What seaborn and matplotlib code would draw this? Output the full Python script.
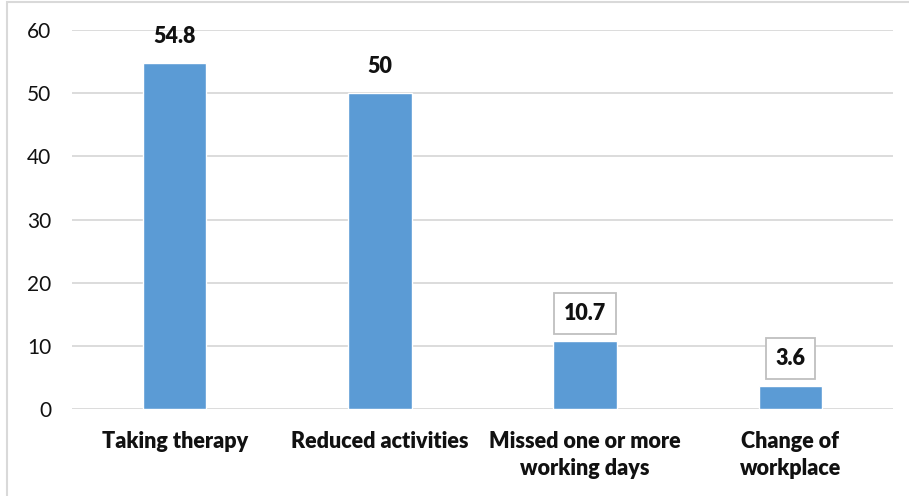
import matplotlib
matplotlib.use("Agg")
import matplotlib.pyplot as plt
import seaborn as sns
import pandas as pd
from matplotlib.patches import Rectangle

categories = ["Taking therapy", "Reduced activities",
              "Missed one or more\nworking days", "Change of\nworkplace"]
values = [54.8, 50, 10.7, 3.6]
value_labels = ["54.8", "50", "10.7", "3.6"]
boxed = [False, False, True, True]
yticks = [0, 10, 20, 30, 40, 50, 60]

sns.set_theme(style="white")
plt.rcParams["font.family"] = ["Lato", "DejaVu Sans"]

df = pd.DataFrame({"category": categories, "value": values})

fig = plt.figure(figsize=(9.09, 4.96), dpi=100)
ax = fig.add_axes([72 / 909, 1 - 409 / 496, 821 / 909, 379 / 496])

sns.barplot(data=df, x="category", y="value", color="#5B9BD5",
            saturation=1, width=0.31, ax=ax, zorder=3)

ax.set_ylim(0, 60)
ax.set_xlim(-0.5, len(categories) - 0.5)
ax.set_yticks(yticks)
ax.set_yticklabels([str(t) for t in yticks], fontsize=15, color="#111111")
ax.set_xticks(range(len(categories)))
ax.set_xticklabels(categories, fontsize=15.5, fontweight="heavy", color="#111111",
                   linespacing=1.32, va="top")
ax.tick_params(axis="y", length=0, pad=15)
ax.tick_params(axis="x", length=0, pad=16)
ax.set_xlabel("")
ax.set_ylabel("")
ax.yaxis.grid(True, color="#d9d9d9", linewidth=1.3, zorder=0)
ax.set_axisbelow(True)
for s in ax.spines.values():
    s.set_visible(False)

for i, (v, lab, b) in enumerate(zip(values, value_labels, boxed)):
    style = dict(ha="center", va="center", fontsize=15.5, fontweight="heavy",
                 color="#111111", textcoords="offset points")
    if b:
        ax.annotate(lab, xy=(i, v), xytext=(0, 20),
                    bbox=dict(boxstyle="square,pad=0.45", fc="white",
                              ec="#bfbfbf", lw=1.3), **style)
    else:
        ax.annotate(lab, xy=(i, v), xytext=(0, 19), **style)

# outer frame of the chart area
fig.patches.append(Rectangle((7 / 909, -0.01), 1.0, 1.0 - 1.5 / 496 + 0.01,
                             transform=fig.transFigure, fill=False,
                             ec="#d9d9d9", lw=1.5))

fig.savefig("out.png", dpi=100)
